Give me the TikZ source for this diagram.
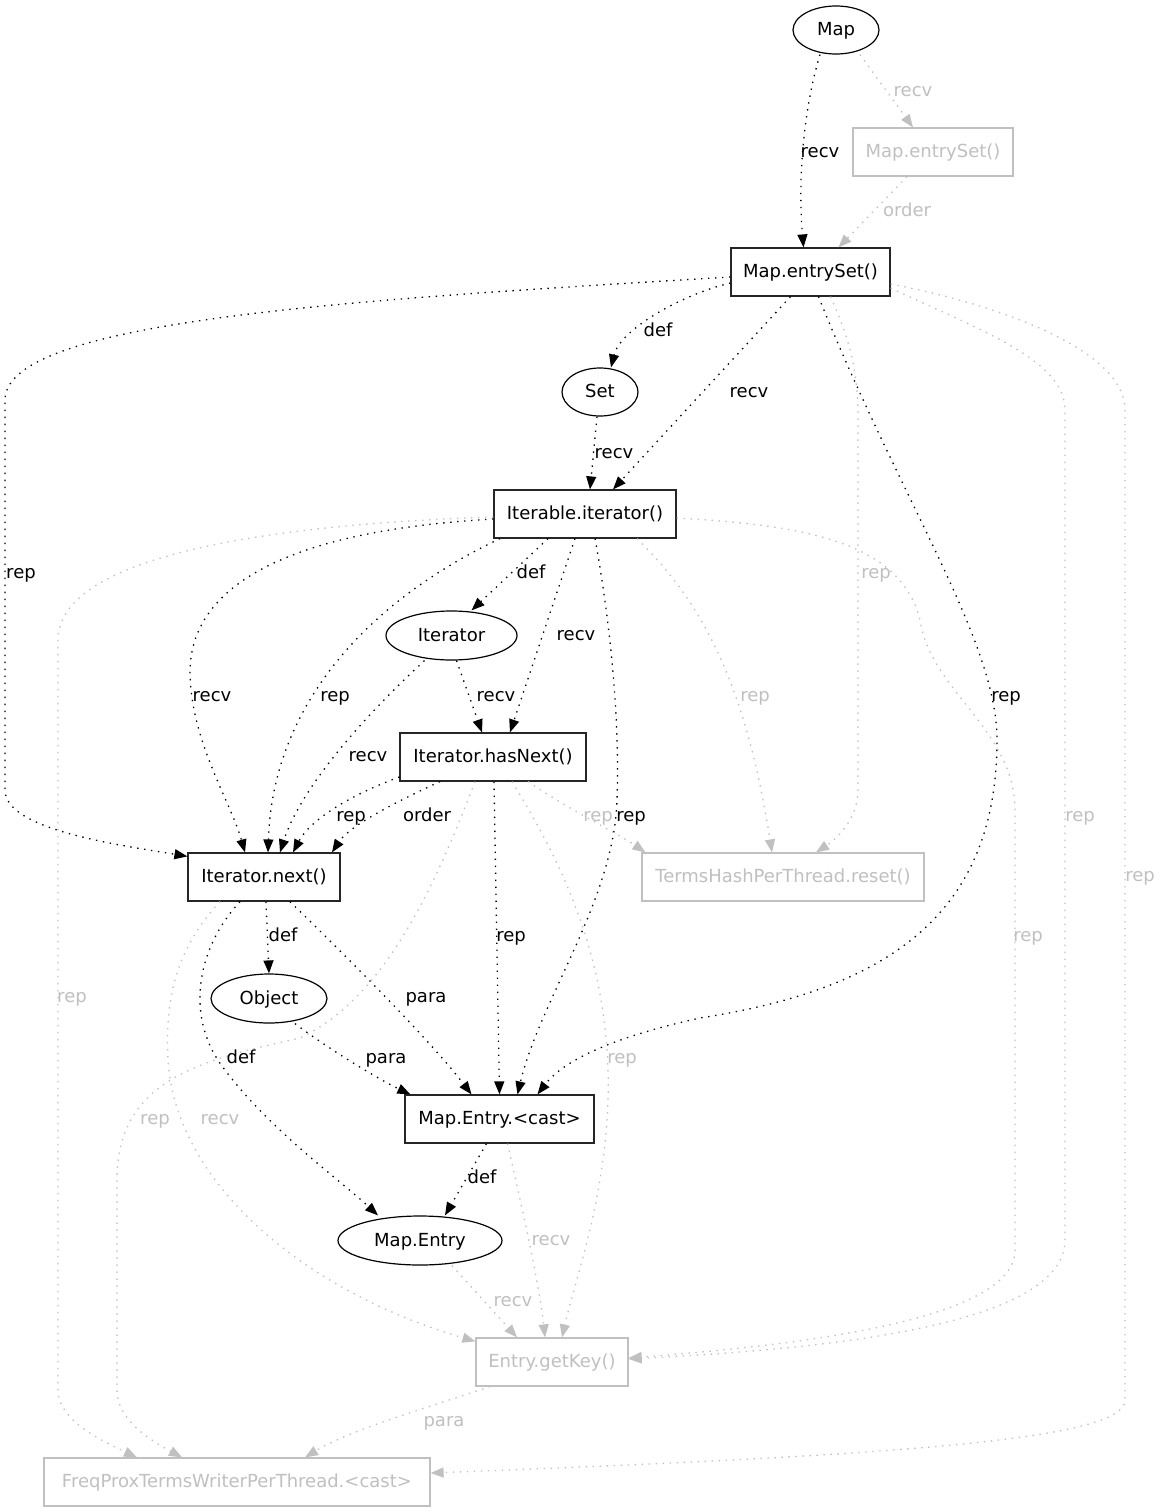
\documentclass[tikz,border=0pt]{standalone}
\usepackage{fontspec}
\setmainfont{DejaVu Sans}
\usetikzlibrary{arrows.meta,shapes.geometric}
\definecolor{gc}{RGB}{192,192,192}
\begin{document}
\begin{tikzpicture}[x=1pt,y=-1pt,
  every node/.style={font=\fontsize{18}{20}\selectfont, text height=14pt, text depth=3pt},
  nbox/.style={draw=black!85, line width=1.2pt, rectangle, minimum height=48pt, inner sep=0pt},
  gbox/.style={nbox, draw=gc, text=gc},
  ell/.style={draw=black, line width=1.2pt, ellipse, minimum height=48pt, inner sep=0pt},
  dotedge/.style={line width=1.3pt, dash pattern=on 1.4pt off 5.6pt, -{Triangle[length=13pt,width=10pt]}},
  bk/.style={dotedge, draw=black},
  gy/.style={dotedge, draw=gc},
  lb/.style={inner sep=0pt},
  glb/.style={lb, text=gc}]
\fill[white] (0,0) rectangle (1161,1512);
\useasboundingbox (0,0) rectangle (1161,1512);

% nodes
\node[ell, minimum width=86pt] (map) at (836,30) {Map};
\node[gbox, minimum width=160pt] (mesg) at (933,152) {Map.entrySet()};
\node[nbox, minimum width=159pt] (mes) at (810.5,272) {Map.entrySet()};
\node[ell, minimum width=76pt] (set) at (600,392) {Set};
\node[nbox, minimum width=182pt] (iter) at (585,514) {Iterable.iterator()};
\node[ell, minimum width=131pt, minimum height=49pt] (itr) at (451.5,635.5) {Iterator};
\node[nbox, minimum width=186pt] (hn) at (493,757) {Iterator.hasNext()};
\node[nbox, minimum width=152pt] (nx) at (264,877) {Iterator.next()};
\node[gbox, minimum width=282pt] (reset) at (783,877) {TermsHashPerThread.reset()};
\node[ell, minimum width=116pt, minimum height=49pt] (obj) at (269,998.5) {Object};
\node[nbox, minimum width=189pt] (cast) at (499.5,1119) {Map.Entry.<cast>};
\node[ell, minimum width=164pt, minimum height=49pt] (me) at (420,1240.5) {Map.Entry};
\node[gbox, minimum width=152pt] (gk) at (552,1362) {Entry.getKey()};
\node[gbox, minimum width=386pt] (fp) at (237,1482) {FreqProxTermsWriterPerThread.<cast>};

% edges
\draw[bk] ([xshift=-16pt]map.south) .. controls (806,100) and (797,170) .. ([xshift=-7pt]mes.north);
\draw[gy] ([xshift=24pt]map.south) -- ([xshift=-20pt]mesg.north);
\draw[gy] ([xshift=-26pt]mesg.south) -- ([xshift=28pt]mes.north);
\draw[bk] ([yshift=-11pt]mes.west) .. controls (680,295) and (620,330) .. ([xshift=11pt]set.north);
\draw[bk] ([xshift=-20pt]mes.south) -- ([xshift=28pt]iter.north);
\draw[bk] ([yshift=-5pt]mes.west) .. controls (350,300) and (5,320) .. (5,400) -- (5,790) .. controls (5,830) and (120,845) .. ([yshift=-4pt]nx.north west);
\draw[bk] ([xshift=8pt]mes.south) .. controls (900,500) and (997,640) .. (997,740) .. controls (997,920) and (880,990) .. (700,1018) .. controls (600,1040) and (560,1065) .. ([xshift=38pt]cast.north);
\draw[gy] ([xshift=20pt]mes.south) .. controls (850,340) and (858,370) .. (858,420) -- (858,790) .. controls (858,820) and (835,840) .. ([xshift=33pt]reset.north);
\draw[gy] ([yshift=-16pt]mes.east) .. controls (980,330) and (1065,360) .. (1065,410) -- (1065,1240) .. controls (1065,1330) and (800,1350) .. ([yshift=3pt]gk.east);
\draw[gy] ([yshift=-12pt]mes.east) .. controls (1000,305) and (1125,350) .. (1125,410) -- (1125,1400) .. controls (1125,1440) and (900,1455) .. ([yshift=9pt]fp.east);

\draw[bk] ([xshift=-3pt]set.south) -- ([xshift=5pt]iter.north);

\draw[bk] ([xshift=-37pt]iter.south) -- ([xshift=20pt]itr.north);
\draw[bk] ([xshift=-10pt]iter.south) -- ([xshift=17pt]hn.north);
\draw[bk] ([yshift=-5pt]iter.west) .. controls (300,530) and (192,580) .. (190,670) .. controls (190,740) and (230,800) .. ([xshift=-19pt]nx.north);
\draw[bk] ([xshift=-85pt]iter.south) .. controls (350,610) and (272,720) .. ([xshift=4pt]nx.north);
\draw[bk] ([xshift=10pt]iter.south) .. controls (610,620) and (620,720) .. (617,800) .. controls (614,900) and (540,1000) .. ([xshift=18pt]cast.north);
\draw[gy] ([xshift=52pt]iter.south) .. controls (700,600) and (745,680) .. ([xshift=-11pt]reset.north);
\draw[gy] ([yshift=-4pt]iter.east) .. controls (800,525) and (900,540) .. (920,620) .. controls (930,690) and (1015,730) .. (1015,810) -- (1015,1250) .. controls (1015,1320) and (800,1345) .. ([yshift=4pt]gk.east);
\draw[gy] ([yshift=-3pt]iter.west) .. controls (250,525) and (58,560) .. (58,640) -- (58,1390) .. controls (58,1420) and (100,1440) .. ([xshift=-100pt]fp.north);

\draw[bk] ([xshift=5pt]itr.south) -- ([xshift=-11pt]hn.north);
\draw[bk] ([xshift=-27pt]itr.south) .. controls (360,720) and (300,790) .. ([xshift=16pt]nx.north);

\draw[bk] ([yshift=-20pt]hn.west) .. controls (350,795) and (310,820) .. ([xshift=29pt]nx.north);
\draw[bk] ([xshift=-53pt]hn.south) .. controls (400,800) and (350,825) .. ([xshift=68pt]nx.north);
\draw[gy] ([xshift=35pt]hn.south) .. controls (570,810) and (620,835) .. ([xshift=4pt]reset.north west);
\draw[bk] ([xshift=1pt]hn.south) -- (cast.north);
\draw[gy] ([xshift=19pt]hn.south) .. controls (560,860) and (612,960) .. (608,1100) .. controls (605,1200) and (575,1280) .. ([xshift=10pt]gk.north);
\draw[gy] ([xshift=-18pt]hn.south) .. controls (430,900) and (380,1000) .. (300,1038) .. controls (200,1060) and (117,1080) .. (117,1180) -- (117,1390) .. controls (117,1420) and (150,1440) .. ([xshift=-55pt]fp.north);

\draw[bk] ([xshift=2pt]nx.south) -- (obj.north);
\draw[bk] ([xshift=26pt]nx.south) .. controls (350,960) and (430,1040) .. ([xshift=-28pt]cast.north);
\draw[bk] ([xshift=-24pt]nx.south) .. controls (195,950) and (185,1020) .. (225,1070) .. controls (270,1130) and (340,1180) .. ([xshift=-42pt]me.north);
\draw[gy] ([xshift=-44pt]nx.south) .. controls (175,950) and (165,1000) .. (168,1060) .. controls (175,1180) and (300,1290) .. ([yshift=-4pt]gk.north west);

\draw[bk] ([xshift=26pt]obj.south) .. controls (330,1050) and (380,1080) .. ([xshift=6pt]cast.north west);
\draw[bk] ([xshift=-13pt]cast.south) -- ([xshift=25pt]me.north);
\draw[gy] ([xshift=8pt]cast.south) .. controls (525,1220) and (540,1290) .. ([xshift=-7pt]gk.north);
\draw[gy] ([xshift=32pt]me.south) -- ([xshift=-35pt]gk.north);
\draw[gy] ([xshift=-62pt]gk.south) .. controls (420,1410) and (350,1430) .. ([xshift=68pt]fp.north);

% labels
\node[lb] (l01) at (820,152) {recv};
\node[glb] (l02) at (913,91) {recv};
\node[glb] (l03) at (907,211) {order};
\node[lb] (l04) at (658,331) {def};
\node[lb] (l05) at (749,392) {recv};
\node[lb] (l06) at (21,573) {rep};
\node[lb] (l07) at (1006,696) {rep};
\node[glb] (l08) at (876,573) {rep};
\node[glb] (l09) at (1080,816) {rep};
\node[glb] (l10) at (1140,876) {rep};
\node[lb] (l11) at (614,453) {recv};
\node[lb] (l12) at (531,573) {def};
\node[lb] (l13) at (576,635) {recv};
\node[lb] (l14) at (212,696) {recv};
\node[lb] (l15) at (335,696) {rep};
\node[lb] (l16) at (631,816) {rep};
\node[glb] (l17) at (755,696) {rep};
\node[glb] (l18) at (1028,936) {rep};
\node[glb] (l19) at (72,997) {rep};
\node[lb] (l20) at (496,696) {recv};
\node[lb] (l21) at (368,756) {recv};
\node[lb] (l22) at (351,816) {rep};
\node[lb] (l23) at (427,816) {order};
\node[glb] (l24) at (598,816) {rep};
\node[lb] (l25) at (511,936) {rep};
\node[glb] (l26) at (622,1058) {rep};
\node[glb] (l27) at (155,1119) {rep};
\node[lb] (l28) at (283,936) {def};
\node[lb] (l29) at (426,997) {para};
\node[lb] (l30) at (241,1058) {def};
\node[glb] (l31) at (220,1119) {recv};
\node[lb] (l32) at (386,1058) {para};
\node[lb] (l33) at (482,1178) {def};
\node[glb] (l34) at (551,1240) {recv};
\node[glb] (l35) at (513,1301) {recv};
\node[glb] (l36) at (444,1421) {para};
\end{tikzpicture}
\end{document}
